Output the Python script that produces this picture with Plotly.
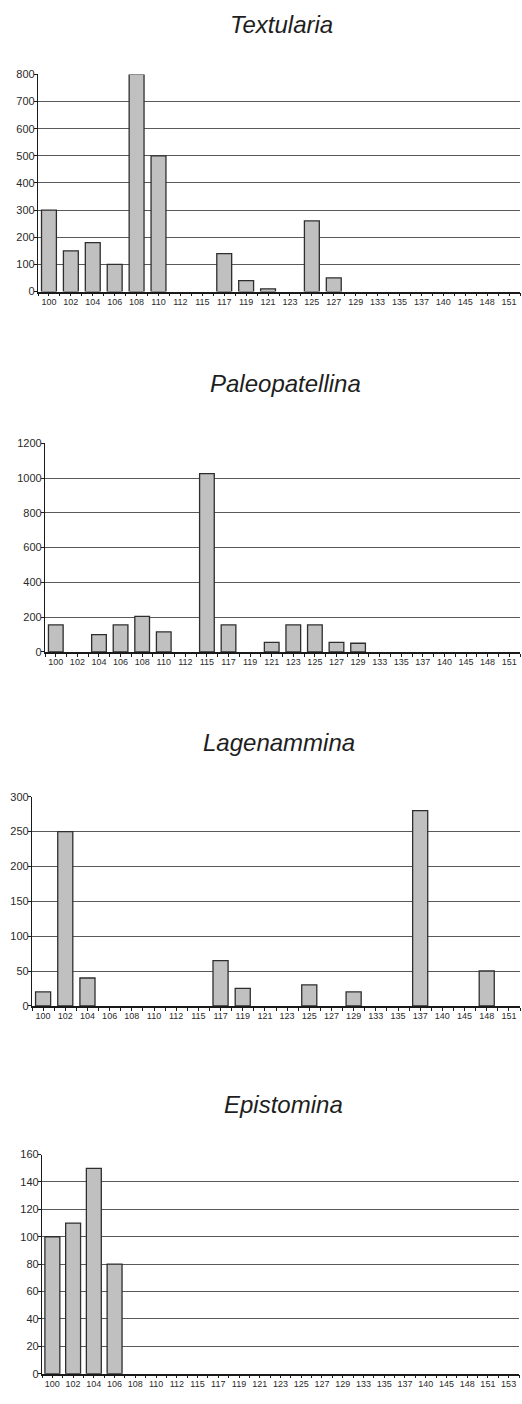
import plotly.graph_objects as go

# Sample depths (category labels)
depths = ["100", "102", "104", "106", "108", "110", "112", "115", "117", "119", "121",
          "123", "125", "127", "129", "133", "135", "137", "140", "145", "148", "151"]
depths_epi = depths + ["153"]

# Counts per genus
textularia = [300, 150, 180, 100, 800, 500, 0, 0, 140, 40, 10,
              0, 260, 50, 0, 0, 0, 0, 0, 0, 0, 0]
paleopatellina = [155, 0, 100, 155, 205, 115, 0, 1025, 155, 0, 55,
                  155, 155, 55, 50, 0, 0, 0, 0, 0, 0, 0]
lagenammina = [20, 250, 40, 0, 0, 0, 0, 0, 65, 25, 0,
               0, 30, 0, 20, 0, 0, 280, 0, 0, 50, 0]
epistomina = [100, 110, 150, 80, 0, 0, 0, 0, 0, 0, 0, 0,
              0, 0, 0, 0, 0, 0, 0, 0, 0, 0, 0]

W, H = 522, 1404
FONT = "Liberation Sans, Arial, sans-serif"

# name, labels, values, y max, y step, plot box in px (left, right, top, bottom), title y px, bargap
panels = [
    ("Textularia", depths, textularia, 800, 100, (38, 520, 69, 288), 19, 0.32),
    ("Paleopatellina", depths, paleopatellina, 1200, 200, (45, 520, 441, 651.5), 381, 0.32),
    ("Lagenammina", depths, lagenammina, 300, 50, (32, 520, 797.5, 1008.5), 743, 0.32),
    ("Epistomina", depths_epi, epistomina, 160, 20, (42, 519, 1158.5, 1379.5), 1108, 0.28),
]

fig = go.Figure()
annotations = []
for i, (name, labels, vals, ymax, ystep, box, ty, gap) in enumerate(panels, start=1):
    xa = "x" if i == 1 else f"x{i}"
    ya = "y" if i == 1 else f"y{i}"
    n = len(labels)
    xs = list(range(n))
    # empty samples get no outline so only the axis line shows there
    outline = [1.3 if v > 0 else 0 for v in vals]
    fig.add_trace(go.Bar(
        x=xs, y=vals, xaxis=xa, yaxis=ya,
        marker=dict(color="#c0c0c0", line=dict(color="#2e2e2e", width=outline)),
        width=1 - gap, showlegend=False,
    ))
    l, r, t, b = box
    xkey = "xaxis" if i == 1 else f"xaxis{i}"
    ykey = "yaxis" if i == 1 else f"yaxis{i}"
    fig.layout[xkey] = dict(
        domain=[l / W, r / W], anchor=ya,
        range=[-0.5, n - 0.5], showgrid=False, zeroline=False,
        showline=True, linecolor="#1a1a1a", linewidth=1.5,
        tickmode="array", tickvals=xs, ticktext=labels,
        ticks="outside", ticklen=3, tickwidth=1, tickcolor="#1a1a1a",
        minor=dict(tickmode="linear", tick0=-0.5, dtick=1, ticks="outside",
                   ticklen=3, tickwidth=1, tickcolor="#1a1a1a"),
        ticklabelstandoff=-2,
        tickfont=dict(family=FONT, size=9, color="#2a2a2a"),
        fixedrange=True,
    )
    fig.layout[ykey] = dict(
        domain=[1 - b / H, 1 - t / H], anchor=xa,
        range=[0, ymax], tickmode="linear", tick0=0, dtick=ystep,
        showgrid=True, gridcolor="#5a5a5a", gridwidth=1.3,
        zeroline=False, showline=True, linecolor="#1a1a1a", linewidth=1.3,
        ticks="outside", ticklen=3, tickcolor="#1a1a1a",
        ticklabelstandoff=-3,
        tickfont=dict(family=FONT, size=11, color="#2a2a2a"),
        fixedrange=True,
    )
    annotations.append(dict(
        text=f"<i>{name}</i>", x=(l + r) / 2 / W + 0.005, y=1 - ty / H,
        xref="paper", yref="paper", xanchor="center", yanchor="middle",
        showarrow=False, font=dict(family=FONT, size=24, color="#1e1e1e"),
    ))

fig.update_layout(
    width=W, height=H, margin=dict(l=0, r=0, t=0, b=0),
    paper_bgcolor="white", plot_bgcolor="white",
    annotations=annotations, bargap=0.3,
)

fig.write_html("out.html")
